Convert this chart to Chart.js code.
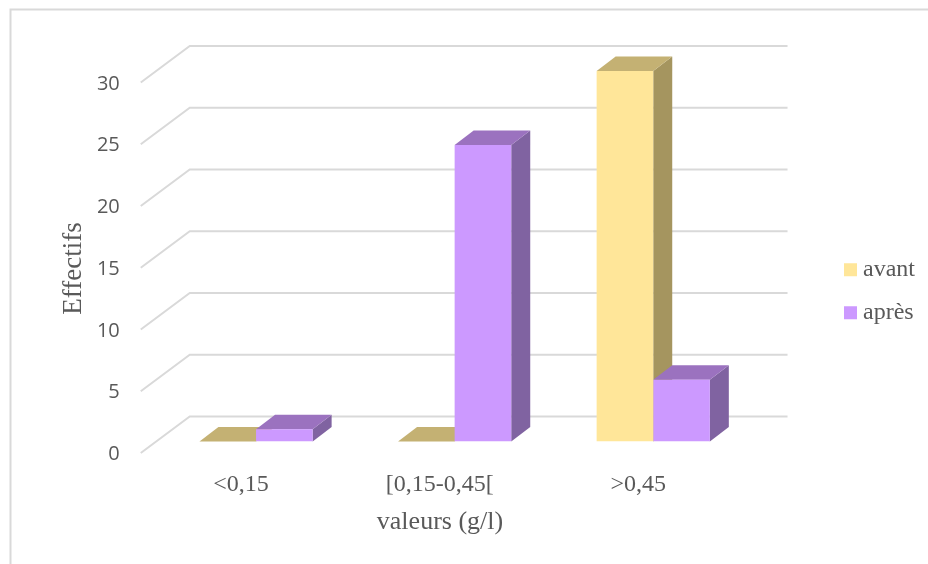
<!DOCTYPE html>
<html>
<head>
<meta charset="utf-8">
<style>
  html, body { margin: 0; padding: 0; background: #fff; }
  #wrap { width: 928px; height: 564px; }
</style>
<script src="https://cdn.jsdelivr.net/npm/chart.js@4/dist/chart.umd.min.js"></script>
</head>
<body>
<div id="wrap"><canvas id="barChart" width="928" height="564"></canvas></div>
<script>
const categories = ['<0,15', '[0,15-0,45[', '>0,45'];
const avant = [0, 0, 30];
const apres = [1, 24, 5];
const yTicks = [0, 5, 10, 15, 20, 25, 30];

const textGrey = '#595959';
const gridGrey = '#d9d9d9';
const serif = '"Liberation Serif", serif';

// bar depth faces
const depthX = 19;
const depthY = 14.5;
const shades = [
    { top: '#c4b173', side: '#a5955f' },
    { top: '#9b72bf', side: '#8063a1' }
];

function poly(ctx, pts, color) {
    ctx.fillStyle = color;
    ctx.beginPath();
    pts.forEach((p, i) => i ? ctx.lineTo(p[0], p[1]) : ctx.moveTo(p[0], p[1]));
    ctx.closePath();
    ctx.fill();
}

const frame3d = {
    id: 'frame3d',
    afterLayout(chart) {
        // legend sits lower than the plot centre
        chart.legend.left = 831;
        chart.legend.right = 928;
        chart.legend.top = chart.chartArea.top + 35;
        chart.legend.bottom = chart.chartArea.bottom + 35;
    },
    beforeDatasetsDraw(chart) {
        const ctx = chart.ctx;
        const area = chart.chartArea;
        const y = chart.scales.y;

        // outer border, only top and left show up
        ctx.save();
        ctx.strokeStyle = gridGrey;
        ctx.lineWidth = 2;
        ctx.beginPath();
        ctx.moveTo(10.5, 564);
        ctx.lineTo(10.5, 9.5);
        ctx.lineTo(928, 9.5);
        ctx.stroke();

        // floor/back wall lines
        const frontX = area.left - 16;
        const backX = area.left + 33;
        const endX = area.right + 35;
        yTicks.forEach(v => {
            const py = y.getPixelForValue(v);
            ctx.beginPath();
            ctx.moveTo(frontX, py + 11.5);
            ctx.lineTo(backX, py - 25);
            ctx.lineTo(endX, py - 25);
            ctx.stroke();
        });

        // top and side of each bar, the front comes from the library
        chart.data.datasets.forEach((ds, d) => {
            chart.getDatasetMeta(d).data.forEach(bar => {
                const l = bar.x - bar.width / 2;
                const r = bar.x + bar.width / 2;
                const t = bar.y;
                const b = bar.base;
                poly(ctx, [[r, t], [r + depthX, t - depthY], [r + depthX, b - depthY], [r, b]], shades[d].side);
                poly(ctx, [[l, t], [l + depthX, t - depthY], [r + depthX, t - depthY], [r, t]], shades[d].top);
            });
        });
        ctx.restore();
    },
    afterDraw(chart) {
        const ctx = chart.ctx;
        ctx.save();
        ctx.fillStyle = textGrey;
        ctx.font = '26px ' + serif;
        ctx.textAlign = 'center';
        ctx.textBaseline = 'middle';
        ctx.fillText('valeurs (g/l)', 440, 522);
        ctx.font = '27px ' + serif;
        ctx.translate(74, 268.5);
        ctx.rotate(-Math.PI / 2);
        ctx.fillText('Effectifs', 0, 0);
        ctx.restore();
    }
};

var ctx = document.getElementById('barChart').getContext('2d');
var barChart = new Chart(ctx, {
    type: 'bar',
    data: {
        labels: categories,
        datasets: [
            { label: 'avant', data: avant, backgroundColor: '#ffe699' },
            { label: 'après', data: apres, backgroundColor: '#cc99ff' }
        ]
    },
    options: {
        responsive: false,
        animation: false,
        layout: { padding: { top: 71, right: 81.5, left: 0, bottom: 0 } },
        datasets: { bar: { barPercentage: 1, categoryPercentage: 0.57 } },
        scales: {
            x: {
                grid: { display: false, drawTicks: false },
                border: { display: false },
                afterFit(scale) { scale.height = 122.5; },
                ticks: {
                    color: textGrey,
                    font: { family: serif, size: 24 },
                    padding: 29,
                    labelOffset: -15,
                    maxRotation: 0
                }
            },
            y: {
                min: 0,
                max: 30,
                grid: { display: false, drawTicks: false },
                border: { display: false },
                afterFit(scale) { scale.width = 156.75; },
                ticks: {
                    stepSize: 5,
                    color: textGrey,
                    font: { family: '"Open Sans", sans-serif', size: 20 },
                    padding: 37,
                    labelOffset: 13
                }
            }
        },
        plugins: {
            tooltip: { enabled: false },
            legend: {
                position: 'right',
                labels: {
                    color: textGrey,
                    font: { family: serif, size: 24 },
                    // tiny box with a thick outline keeps the label close to its swatch
                    boxWidth: 1,
                    boxHeight: 1,
                    padding: 19,
                    generateLabels(chart) {
                        return Chart.defaults.plugins.legend.labels.generateLabels(chart).map(item => {
                            item.strokeStyle = item.fillStyle;
                            item.lineWidth = 12;
                            return item;
                        });
                    }
                }
            }
        }
    },
    plugins: [frame3d]
});
</script>
</body>
</html>
